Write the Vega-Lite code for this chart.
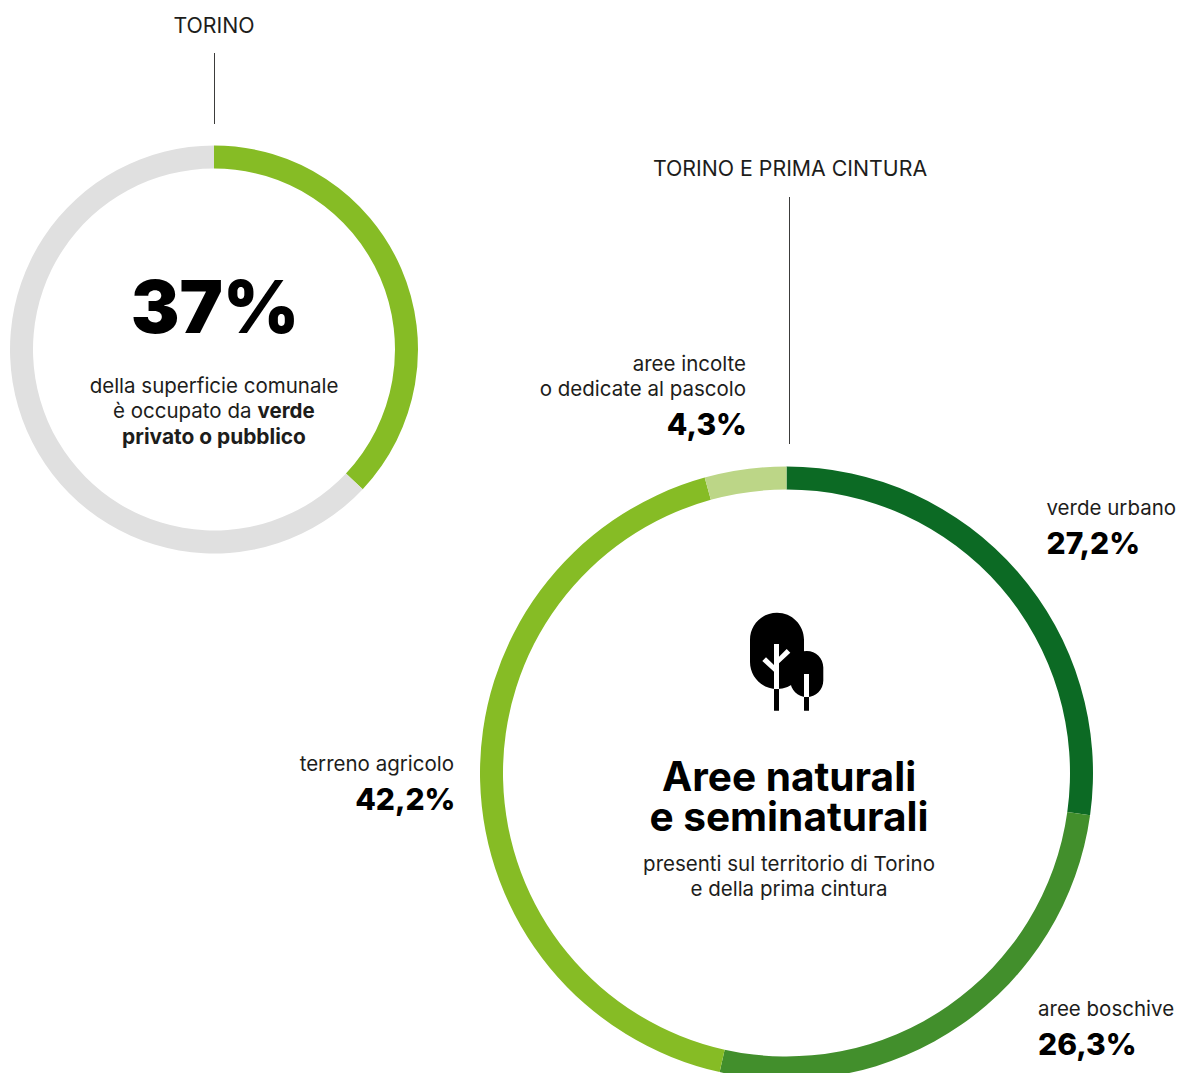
{
  "$schema": "https://vega.github.io/schema/vega-lite/v6.json",
  "width": 1179,
  "height": 1073,
  "padding": 0,
  "autosize": {"type": "fit", "contains": "padding"},
  "background": "#ffffff",
  "config": {
    "view": {"stroke": null},
    "text": {"font": "Inter", "fontSize": 20.5, "color": "#1d1d1b", "lineHeight": 25.3, "lineBreak": "\n", "baseline": "alphabetic"}
  },
  "datasets": {
    "torino": [
      {"categoria": "verde", "quota": 37, "ordine": 1, "etichetta": "37%"},
      {"categoria": "altro", "quota": 63, "ordine": 2, "etichetta": ""}
    ],
    "cintura": [
      {"categoria": "verde urbano", "quota": 27.2, "ordine": 1, "etichetta": "27,2%"},
      {"categoria": "aree boschive", "quota": 26.3, "ordine": 2, "etichetta": "26,3%"},
      {"categoria": "terreno agricolo", "quota": 42.2, "ordine": 3, "etichetta": "42,2%"},
      {"categoria": "aree incolte\no dedicate al pascolo", "quota": 4.3, "ordine": 4, "etichetta": "4,3%"}
    ],
    "testi": [{"id": "TORINO"}, {"id": "TORINO E PRIMA CINTURA"}, {"id": "della superficie comunale"}, {"id": "è occupato da"}, {"id": "verde"}, {"id": "privato o pubblico"}, {"id": "Aree naturali\ne seminaturali"}, {"id": "presenti sul territorio di Torino"}, {"id": "e della prima cintura"}],
    "icona": [{"parte": "albero"}]
  },
  "layer": [
    {
      "data": {"name": "torino"},
      "mark": {"type": "arc", "x": 214, "y": 349.5, "radius": 204, "radius2": 181},
      "encoding": {
        "theta": {"field": "quota", "type": "quantitative", "stack": true},
        "order": {"field": "ordine", "type": "ordinal"},
        "color": {"field": "categoria", "type": "nominal", "legend": null, "scale": {"domain": ["verde", "altro"], "range": ["#86bc25", "#e0e0e0"]}}
      }
    },
    {
      "data": {"name": "cintura"},
      "mark": {"type": "arc", "x": 786.5, "y": 773, "radius": 306.5, "radius2": 283.5},
      "encoding": {
        "theta": {"field": "quota", "type": "quantitative", "stack": true},
        "order": {"field": "ordine", "type": "ordinal"},
        "color": {"field": "categoria", "type": "nominal", "legend": null, "scale": {"domain": ["verde urbano", "aree boschive", "terreno agricolo", "aree incolte\no dedicate al pascolo"], "range": ["#0c6a24", "#428f2c", "#86bc25", "#bcd687"]}}
      }
    },
    {"data": {"name": "icona"}, "mark": {"type": "rule", "color": "#3c3c3b", "strokeWidth": 1}, "encoding": {"x": {"value": 214.5}, "y": {"value": 53}, "y2": {"value": 124}}},
    {"data": {"name": "icona"}, "mark": {"type": "rule", "color": "#3c3c3b", "strokeWidth": 1}, "encoding": {"x": {"value": 789.5}, "y": {"value": 197}, "y2": {"value": 444}}},

    {"data": {"name": "testi"}, "transform": [{"filter": "datum.id === 'TORINO'"}], "mark": {"type": "text", "x": 214, "y": 32.5, "align": "center", "fontSize": 21.3}, "encoding": {"text": {"field": "id"}}},
    {"data": {"name": "testi"}, "transform": [{"filter": "datum.id === 'TORINO E PRIMA CINTURA'"}], "mark": {"type": "text", "x": 790, "y": 175.5, "align": "center", "fontSize": 21.3}, "encoding": {"text": {"field": "id"}}},

    {"data": {"name": "torino"}, "transform": [{"filter": "datum.ordine === 1"}], "mark": {"type": "text", "x": 215, "y": 333, "align": "center", "fontSize": 73, "fontWeight": 900, "color": "#000000"}, "encoding": {"text": {"field": "etichetta"}}},
    {"data": {"name": "testi"}, "transform": [{"filter": "datum.id === 'della superficie comunale'"}], "mark": {"type": "text", "x": 214, "y": 392.5, "align": "center"}, "encoding": {"text": {"field": "id"}}},
    {"data": {"name": "testi"}, "transform": [{"filter": "datum.id === 'è occupato da'"}], "mark": {"type": "text", "x": 251.5, "y": 417.5, "align": "right"}, "encoding": {"text": {"field": "id"}}},
    {"data": {"name": "testi"}, "transform": [{"filter": "datum.id === 'verde'"}], "mark": {"type": "text", "x": 257.5, "y": 417.5, "align": "left", "fontWeight": 700}, "encoding": {"text": {"field": "id"}}},
    {"data": {"name": "testi"}, "transform": [{"filter": "datum.id === 'privato o pubblico'"}], "mark": {"type": "text", "x": 214, "y": 443.5, "align": "center", "fontWeight": 700, "fontSize": 20.9}, "encoding": {"text": {"field": "id"}}},

    {"data": {"name": "cintura"}, "transform": [{"filter": "datum.ordine === 4"}], "mark": {"type": "text", "x": 746, "y": 370.5, "align": "right"}, "encoding": {"text": {"field": "categoria"}}},
    {"data": {"name": "cintura"}, "transform": [{"filter": "datum.ordine === 4"}], "mark": {"type": "text", "x": 747, "y": 435, "align": "right", "fontSize": 30, "fontWeight": 800, "color": "#000000"}, "encoding": {"text": {"field": "etichetta"}}},
    {"data": {"name": "cintura"}, "transform": [{"filter": "datum.ordine === 1"}], "mark": {"type": "text", "x": 1046.5, "y": 514.5, "align": "left"}, "encoding": {"text": {"field": "categoria"}}},
    {"data": {"name": "cintura"}, "transform": [{"filter": "datum.ordine === 1"}], "mark": {"type": "text", "x": 1046.5, "y": 554, "align": "left", "fontSize": 30, "fontWeight": 800, "color": "#000000"}, "encoding": {"text": {"field": "etichetta"}}},
    {"data": {"name": "cintura"}, "transform": [{"filter": "datum.ordine === 2"}], "mark": {"type": "text", "x": 1038, "y": 1015.5, "align": "left"}, "encoding": {"text": {"field": "categoria"}}},
    {"data": {"name": "cintura"}, "transform": [{"filter": "datum.ordine === 2"}], "mark": {"type": "text", "x": 1038, "y": 1055, "align": "left", "fontSize": 30, "fontWeight": 800, "color": "#000000"}, "encoding": {"text": {"field": "etichetta"}}},
    {"data": {"name": "cintura"}, "transform": [{"filter": "datum.ordine === 3"}], "mark": {"type": "text", "x": 454, "y": 770.5, "align": "right"}, "encoding": {"text": {"field": "categoria"}}},
    {"data": {"name": "cintura"}, "transform": [{"filter": "datum.ordine === 3"}], "mark": {"type": "text", "x": 455.5, "y": 810, "align": "right", "fontSize": 30, "fontWeight": 800, "color": "#000000"}, "encoding": {"text": {"field": "etichetta"}}},

    {"data": {"name": "testi"}, "transform": [{"filter": "test(/^Aree/, datum.id)"}], "mark": {"type": "text", "x": 789, "y": 790.5, "align": "center", "fontSize": 40.6, "lineHeight": 40, "fontWeight": 700, "color": "#000000"}, "encoding": {"text": {"field": "id"}}},
    {"data": {"name": "testi"}, "transform": [{"filter": "datum.id === 'presenti sul territorio di Torino'"}], "mark": {"type": "text", "x": 789, "y": 870.5, "align": "center"}, "encoding": {"text": {"field": "id"}}},
    {"data": {"name": "testi"}, "transform": [{"filter": "datum.id === 'e della prima cintura'"}], "mark": {"type": "text", "x": 789, "y": 895.5, "align": "center"}, "encoding": {"text": {"field": "id"}}},

    {"data": {"name": "icona"}, "mark": {"type": "point", "x": 786, "y": 660, "size": 4, "filled": true, "opacity": 1, "color": "#000000", "strokeWidth": 0,
      "shape": "M-36,-20.3A27,27 0 0 1 18,-20.3V2A27,27 0 0 1 -36,2ZM4.3,7.5A16.5,16.5 0 0 1 37.3,7.5V20.5A16.5,16.5 0 0 1 4.3,20.5ZM-12,25H-7V50.7H-12ZM18,33H23V50.7H18Z"}, "encoding": {}},
    {"data": {"name": "icona"}, "mark": {"type": "point", "x": 786, "y": 660, "size": 4, "filled": true, "opacity": 1, "color": "#ffffff", "strokeWidth": 0,
      "shape": "M-12,-16H-7V29H-12ZM18,14H23V37H18ZM-23.7,1L-20,-2.7L-12,5V11.7ZM0.7,-11L4.3,-7.3L-7,3.3V-3.3Z"}, "encoding": {}}
  ],
  "resolve": {"scale": {"theta": "independent", "color": "independent"}}
}
